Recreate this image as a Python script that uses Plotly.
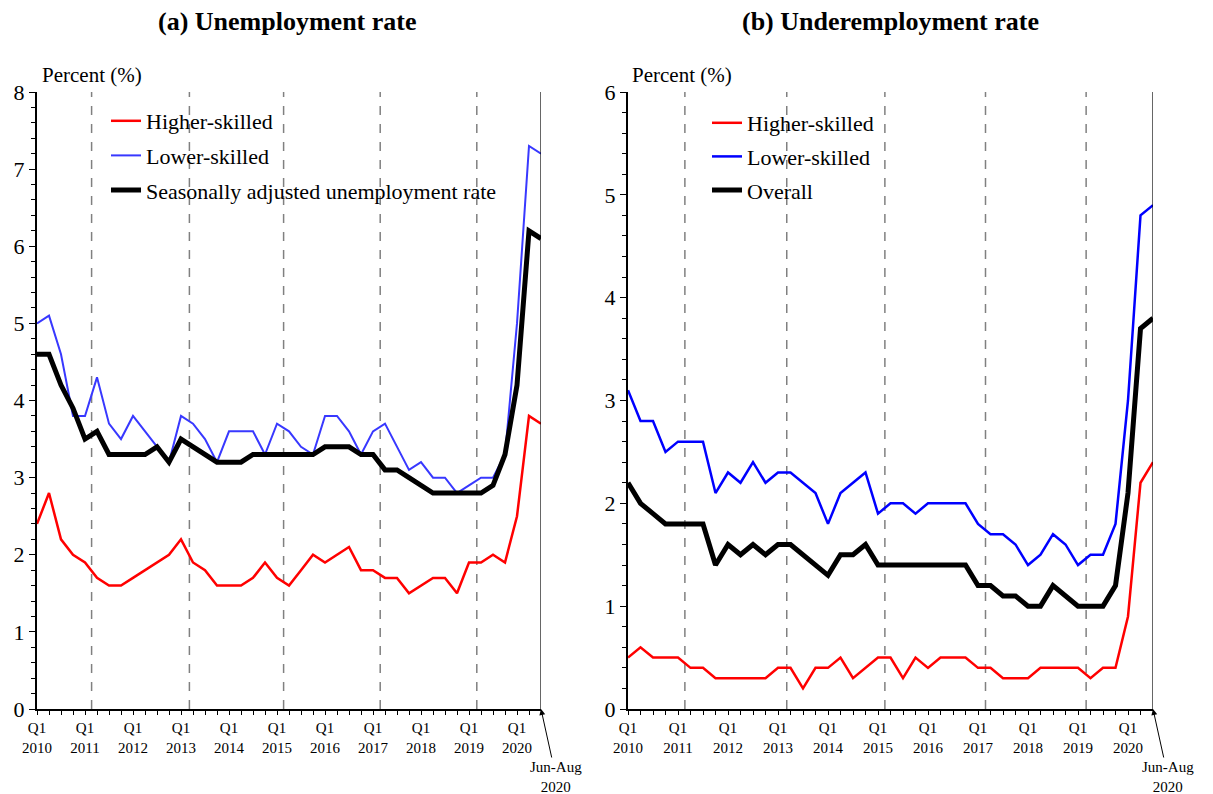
import plotly.graph_objects as go

# Quarterly observations, 2010 Q1 .. 2020 Q2, then the Jun-Aug 2020 reading
years = list(range(2010, 2021))
n_points = 43
periods = list(range(n_points))
quarter_labels = []
for i in periods:
    if i % 4 == 0 and i // 4 < len(years):
        quarter_labels.append(f"Q1<br>{years[i // 4]}")
    else:
        quarter_labels.append("")

# (a) Unemployment rate, percent
unemp_higher = [2.4, 2.8, 2.2, 2.0, 1.9, 1.7, 1.6, 1.6, 1.7, 1.8,
                1.9, 2.0, 2.2, 1.9, 1.8, 1.6, 1.6, 1.6, 1.7, 1.9,
                1.7, 1.6, 1.8, 2.0, 1.9, 2.0, 2.1, 1.8, 1.8, 1.7,
                1.7, 1.5, 1.6, 1.7, 1.7, 1.5, 1.9, 1.9, 2.0, 1.9,
                2.5, 3.8, 3.7]
unemp_lower = [5.0, 5.1, 4.6, 3.8, 3.8, 4.3, 3.7, 3.5, 3.8, 3.6,
               3.4, 3.2, 3.8, 3.7, 3.5, 3.2, 3.6, 3.6, 3.6, 3.3,
               3.7, 3.6, 3.4, 3.3, 3.8, 3.8, 3.6, 3.3, 3.6, 3.7,
               3.4, 3.1, 3.2, 3.0, 3.0, 2.8, 2.9, 3.0, 3.0, 3.3,
               5.0, 7.3, 7.2]
unemp_sa = [4.6, 4.6, 4.2, 3.9, 3.5, 3.6, 3.3, 3.3, 3.3, 3.3,
            3.4, 3.2, 3.5, 3.4, 3.3, 3.2, 3.2, 3.2, 3.3, 3.3,
            3.3, 3.3, 3.3, 3.3, 3.4, 3.4, 3.4, 3.3, 3.3, 3.1,
            3.1, 3.0, 2.9, 2.8, 2.8, 2.8, 2.8, 2.8, 2.9, 3.3,
            4.2, 6.2, 6.1]

# (b) Underemployment rate, percent
under_higher = [0.5, 0.6, 0.5, 0.5, 0.5, 0.4, 0.4, 0.3, 0.3, 0.3,
                0.3, 0.3, 0.4, 0.4, 0.2, 0.4, 0.4, 0.5, 0.3, 0.4,
                0.5, 0.5, 0.3, 0.5, 0.4, 0.5, 0.5, 0.5, 0.4, 0.4,
                0.3, 0.3, 0.3, 0.4, 0.4, 0.4, 0.4, 0.3, 0.4, 0.4,
                0.9, 2.2, 2.4]
under_lower = [3.1, 2.8, 2.8, 2.5, 2.6, 2.6, 2.6, 2.1, 2.3, 2.2,
               2.4, 2.2, 2.3, 2.3, 2.2, 2.1, 1.8, 2.1, 2.2, 2.3,
               1.9, 2.0, 2.0, 1.9, 2.0, 2.0, 2.0, 2.0, 1.8, 1.7,
               1.7, 1.6, 1.4, 1.5, 1.7, 1.6, 1.4, 1.5, 1.5, 1.8,
               3.0, 4.8, 4.9]
under_overall = [2.2, 2.0, 1.9, 1.8, 1.8, 1.8, 1.8, 1.4, 1.6, 1.5,
                 1.6, 1.5, 1.6, 1.6, 1.5, 1.4, 1.3, 1.5, 1.5, 1.6,
                 1.4, 1.4, 1.4, 1.4, 1.4, 1.4, 1.4, 1.4, 1.2, 1.2,
                 1.1, 1.1, 1.0, 1.0, 1.2, 1.1, 1.0, 1.0, 1.0, 1.2,
                 2.1, 3.7, 3.8]

# Event markers (in quarter-index units) drawn as dashed verticals
event_positions = [4.55, 12.7, 20.55, 28.6, 36.65]

W, H = 1213, 794
FONT = "Liberation Serif, Times New Roman, serif"


def px_x(p):
    return p / W


def px_y(p):
    return 1 - p / H


fig = go.Figure()

series_a = [
    ("Higher-skilled", unemp_higher, "#FF0000", 2.5),
    ("Lower-skilled", unemp_lower, "#3838FF", 2.0),
    ("Seasonally adjusted unemployment rate", unemp_sa, "#000000", 5),
]
series_b = [
    ("Higher-skilled", under_higher, "#FF0000", 2.5),
    ("Lower-skilled", under_lower, "#0000FF", 2.5),
    ("Overall", under_overall, "#000000", 5),
]

for k, (name, vals, color, width) in enumerate(series_a):
    fig.add_trace(go.Scatter(
        x=periods, y=vals, name=name, mode="lines",
        line=dict(color=color, width=width),
        xaxis="x", yaxis="y", legend="legend", legendgroup=f"a{k}",
    ))
for k, (name, vals, color, width) in enumerate(series_b):
    fig.add_trace(go.Scatter(
        x=periods, y=vals, name=name, mode="lines",
        line=dict(color=color, width=width),
        xaxis="x2", yaxis="y2", legend="legend2", legendgroup=f"b{k}",
    ))

y_dom = [px_y(709), px_y(92)]
x_dom_a = [px_x(37), px_x(541)]
x_dom_b = [px_x(628), px_x(1153)]

xaxis_common = dict(
    range=[0, n_points - 1], tickmode="array", tickvals=periods,
    ticktext=quarter_labels, tickangle=0, automargin=False,
    ticks="outside", ticklen=4, tickwidth=1, tickcolor="black",
    showline=True, linecolor="black", linewidth=2,
    showgrid=False, zeroline=False,
    tickfont=dict(family=FONT, size=15, color="black"),
)
yaxis_common = dict(
    dtick=1, ticks="outside", ticklen=6, tickwidth=1, tickcolor="black",
    automargin=False,
    minor=dict(dtick=0.2, ticks="outside", ticklen=4, tickwidth=1,
               tickcolor="black", showgrid=False),
    showline=True, linecolor="black", linewidth=2,
    showgrid=False, zeroline=False,
    tickfont=dict(family=FONT, size=22, color="black"),
)

fig.update_layout(
    width=W, height=H,
    margin=dict(l=0, r=0, t=0, b=0, autoexpand=False),
    paper_bgcolor="white", plot_bgcolor="white",
    font=dict(family=FONT, color="black"),
    xaxis=dict(domain=x_dom_a, anchor="y", **xaxis_common),
    yaxis=dict(domain=y_dom, anchor="x", range=[0, 8], **yaxis_common),
    xaxis2=dict(domain=x_dom_b, anchor="y2", **xaxis_common),
    yaxis2=dict(domain=y_dom, anchor="x2", range=[0, 6], **yaxis_common),
    legend=dict(
        x=px_x(106), y=px_y(100), xanchor="left", yanchor="top",
        bgcolor="rgba(0,0,0,0)", borderwidth=0,
        font=dict(family=FONT, size=22, color="black"),
        traceorder="grouped", tracegroupgap=3, itemwidth=30,
    ),
    legend2=dict(
        x=px_x(707), y=px_y(102), xanchor="left", yanchor="top",
        bgcolor="rgba(0,0,0,0)", borderwidth=0,
        font=dict(family=FONT, size=22, color="black"),
        traceorder="grouped", tracegroupgap=2, itemwidth=30,
    ),
    showlegend=True,
)

shapes = []
for xa, ya in (("x", "y"), ("x2", "y2")):
    for pos in event_positions:
        shapes.append(dict(
            type="line", xref=xa, yref=f"{ya} domain",
            x0=pos, x1=pos, y0=0, y1=1,
            line=dict(color="#808080", width=1.5, dash="dash"),
            layer="below",
        ))
    # thin right-hand frame line
    shapes.append(dict(
        type="line", xref=xa, yref=f"{ya} domain",
        x0=n_points - 1, x1=n_points - 1, y0=0, y1=1,
        line=dict(color="black", width=1.2),
    ))
fig.update_layout(shapes=shapes)

annotations = [
    dict(text="<b>(a) Unemployment rate</b>", x=px_x(287), y=px_y(22),
         xref="paper", yref="paper", showarrow=False,
         xanchor="center", yanchor="middle",
         font=dict(family=FONT, size=26, color="black")),
    dict(text="<b>(b) Underemployment rate</b>", x=px_x(890), y=px_y(22),
         xref="paper", yref="paper", showarrow=False,
         xanchor="center", yanchor="middle",
         font=dict(family=FONT, size=26, color="black")),
    dict(text="Percent (%)", x=px_x(40), y=px_y(75),
         xref="paper", yref="paper", showarrow=False,
         xanchor="left", yanchor="middle",
         font=dict(family=FONT, size=21, color="black")),
    dict(text="Percent (%)", x=px_x(630), y=px_y(75),
         xref="paper", yref="paper", showarrow=False,
         xanchor="left", yanchor="middle",
         font=dict(family=FONT, size=21, color="black")),
]
for xa, ya in (("x", "y"), ("x2", "y2")):
    annotations.append(dict(
        text="Jun-Aug<br>2020", x=n_points - 1, y=0, xref=xa, yref=ya,
        showarrow=True, arrowhead=2, arrowsize=1.2, arrowwidth=1,
        arrowcolor="black", ax=15, ay=68,
        font=dict(family=FONT, size=15, color="black"),
    ))
fig.update_layout(annotations=annotations)

fig.write_html("out.html")
